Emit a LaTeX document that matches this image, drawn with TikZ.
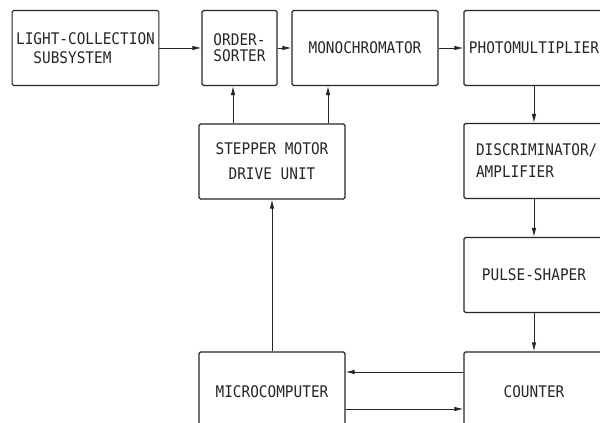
\documentclass[tikz,border=0pt]{standalone}
\usepackage{fontspec}
\newfontfamily\labelfont[FakeStretch=0.9]{DejaVu Sans Mono}
\usetikzlibrary{arrows.meta}

\begin{document}
\begin{tikzpicture}[x=1pt,y=-1pt,
        block/.style={draw=black!85,line width=1.1pt,rounded corners=1.5pt,
            inner sep=4pt,text=black!85,minimum height=75pt,
            font=\labelfont\fontsize{16}{19}\selectfont},
        wire/.style={draw=black!85,line width=0.9pt,
            -{Latex[length=9pt,width=4.5pt]}}]

    \fill[white] (0,0) rectangle (600,423);
    \useasboundingbox (0,0) rectangle (600,423);
    \clip (0,0) rectangle (600,423);

    % top row
    \node[block,minimum width=145pt,align=left] (lcs) at (85.5,48) {LIGHT-COLLECTION\\~~SUBSYSTEM};
    \node[block,minimum width=75pt,align=left] (sorter) at (239.5,48) {ORDER-\\[-3pt]SORTER};
    \node[block,minimum width=146pt] (mono) at (365,48) {MONOCHROMATOR};
    \node[block,minimum width=140pt] (pmt) at (534,48) {PHOTOMULTIPLIER};

    % middle
    \node[block,minimum width=146pt,align=center] (stepper) at (272,161.5) {STEPPER MOTOR\\[6pt]DRIVE UNIT};
    \node[block,text width=116pt,inner xsep=12pt,align=left] (disc) at (534,161) {DISCRIMINATOR/\\[3pt]AMPLIFIER};
    \node[block,minimum width=140pt] (shaper) at (534,275) {PULSE-SHAPER};

    % bottom row
    \node[block,minimum width=146pt,minimum height=80pt] (micro) at (272,392) {MICROCOMPUTER};
    \node[block,minimum width=140pt,minimum height=80pt] (counter) at (534,392) {COUNTER};

    \draw[wire] (lcs) -- (sorter);
    \draw[wire] (sorter) -- (mono);
    \draw[wire] (mono) -- (pmt);
    \draw[wire] (pmt) -- (disc);
    \draw[wire] (disc) -- (shaper);
    \draw[wire] (shaper) -- (counter);
    \draw[wire] (micro) -- (stepper);
    \draw[wire] ([xshift=-39pt]stepper.north) -- ([xshift=-39pt]stepper.north |- sorter.south);
    \draw[wire] ([xshift=56pt]stepper.north) -- ([xshift=56pt]stepper.north |- mono.south);
    \draw[wire] ([yshift=20pt]counter.west) -- ([yshift=20pt]counter.west -| micro.east);
    \draw[wire] ([yshift=-17pt]micro.east) -- ([yshift=-17pt]micro.east -| counter.west);
\end{tikzpicture}
\end{document}
